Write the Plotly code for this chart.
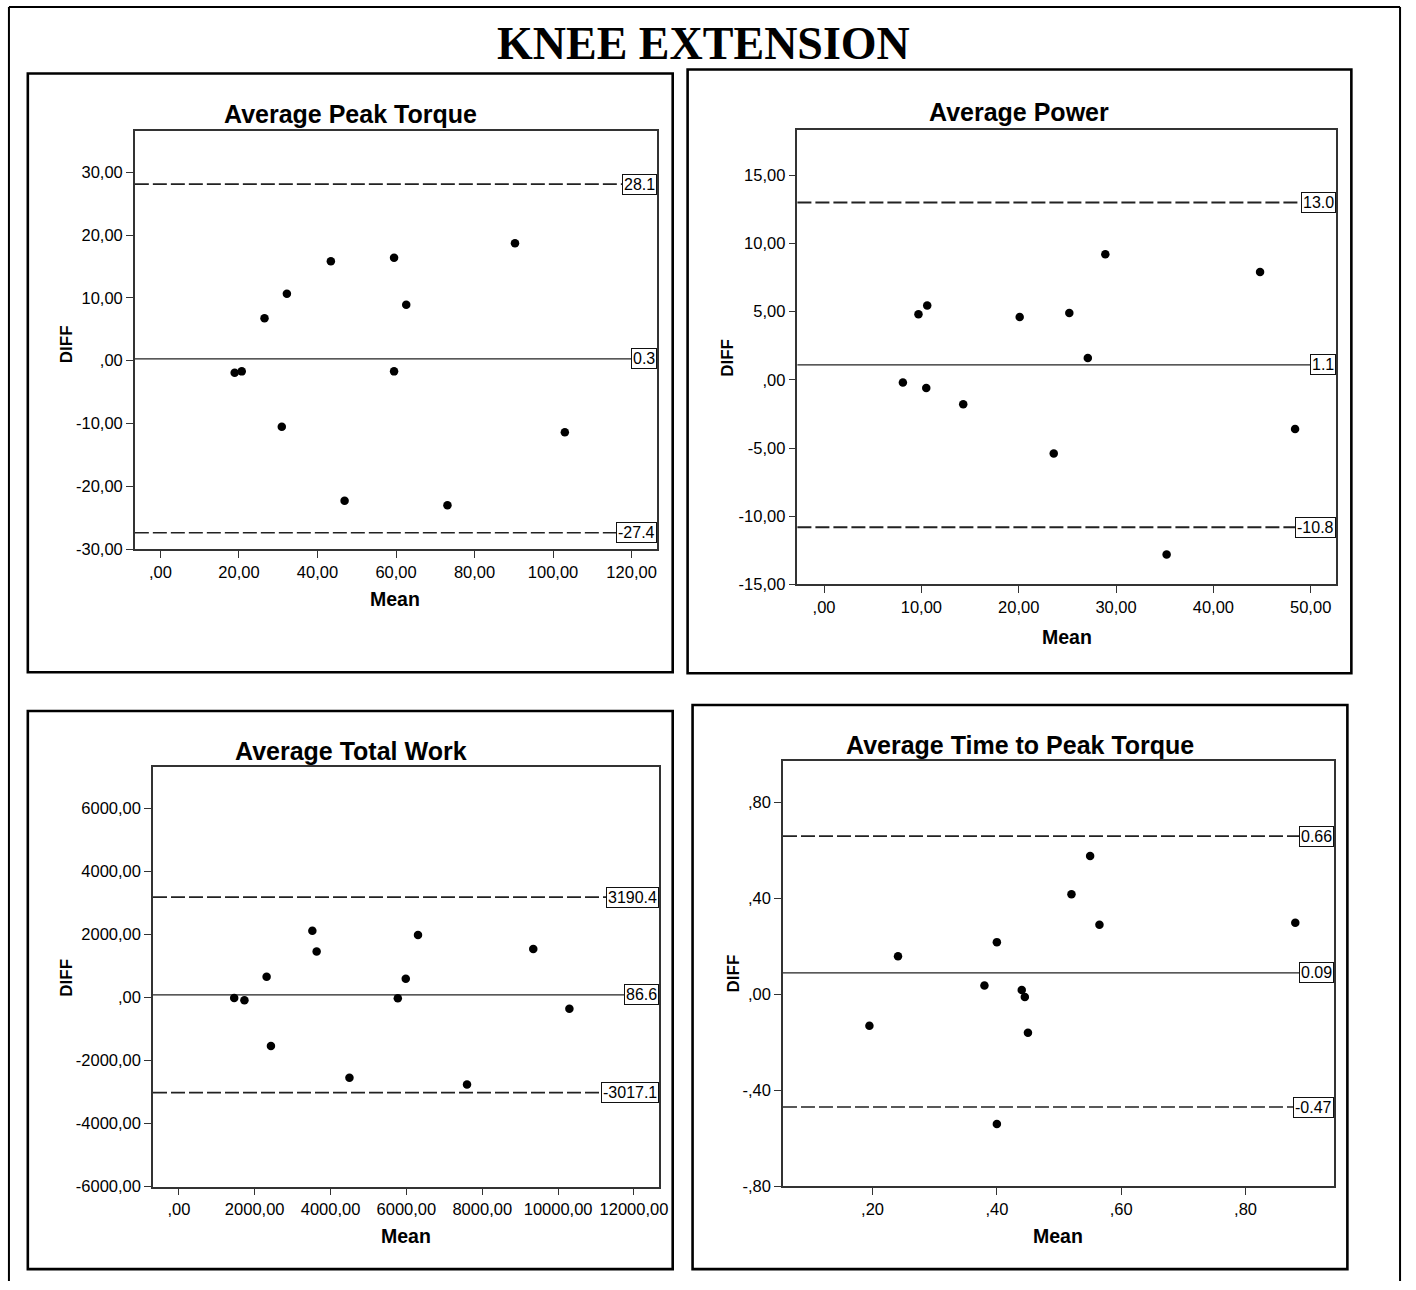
import plotly.graph_objects as go

W, H = 1416, 1290

# ---------------- data ----------------
torque_mean = [18.9, 20.7, 26.5, 32.2, 30.9, 43.4, 46.9, 59.5, 59.5, 62.6, 73.1, 90.3, 103.0]
torque_diff = [-1.9, -1.7, 6.75, 10.65, -10.5, 15.85, -22.3, 16.4, -1.7, 8.9, -23.0, 18.7, -11.4]
torque_lines = [28.1, 0.3, -27.4]
torque_labels = ["28.1", "0.3", "-27.4"]

power_mean = [8.1, 9.7, 10.6, 10.5, 14.3, 20.1, 23.6, 25.2, 27.1, 28.9, 35.2, 44.8, 48.4]
power_diff = [-0.2, 4.8, 5.45, -0.6, -1.8, 4.6, -5.4, 4.9, 1.6, 9.2, -12.8, 7.9, -3.6]
power_lines = [13.0, 1.1, -10.8]
power_labels = ["13.0", "1.1", "-10.8"]

work_mean = [1459, 1729, 2314, 2428, 3520, 3633, 4498, 5773, 5983, 6306, 7598, 9345, 10297]
work_diff = [-10, -84, 662, -1534, 2123, 1461, -2543, -21, 599, 1986, -2754, 1545, -357]
work_lines = [3190.4, 86.6, -3017.1]
work_labels = ["3190.4", "86.6", "-3017.1"]

time_mean = [0.195, 0.241, 0.380, 0.400, 0.440, 0.445, 0.450, 0.400, 0.520, 0.550, 0.565, 0.880]
time_diff = [-0.131, 0.159, 0.037, 0.218, 0.018, -0.011, -0.160, -0.541, 0.418, 0.577, 0.290, 0.299]
time_lines = [0.66, 0.09, -0.47]
time_labels = ["0.66", "0.09", "-0.47"]

torque_xticks = [0, 20, 40, 60, 80, 100, 120]
torque_xtext = [",00", "20,00", "40,00", "60,00", "80,00", "100,00", "120,00"]
torque_yticks = [30, 20, 10, 0, -10, -20, -30]
torque_ytext = ["30,00", "20,00", "10,00", ",00", "-10,00", "-20,00", "-30,00"]

power_xticks = [0, 10, 20, 30, 40, 50]
power_xtext = [",00", "10,00", "20,00", "30,00", "40,00", "50,00"]
power_yticks = [15, 10, 5, 0, -5, -10, -15]
power_ytext = ["15,00", "10,00", "5,00", ",00", "-5,00", "-10,00", "-15,00"]

work_xticks = [0, 2000, 4000, 6000, 8000, 10000, 12000]
work_xtext = [",00", "2000,00", "4000,00", "6000,00", "8000,00", "10000,00", "12000,00"]
work_yticks = [6000, 4000, 2000, 0, -2000, -4000, -6000]
work_ytext = ["6000,00", "4000,00", "2000,00", ",00", "-2000,00", "-4000,00", "-6000,00"]

time_xticks = [0.2, 0.4, 0.6, 0.8]
time_xtext = [",20", ",40", ",60", ",80"]
time_yticks = [0.8, 0.4, 0.0, -0.4, -0.8]
time_ytext = [",80", ",40", ",00", "-,40", "-,80"]

panel_titles = ["Average Peak Torque", "Average Power", "Average Total Work", "Average Time to Peak Torque"]
main_title = "KNEE EXTENSION"
x_title = "Mean"
y_title = "DIFF"

# ---------------- layout geometry (window pixels) ----------------
SANS = "Liberation Sans, Arial, sans-serif"

panels = [
    dict(mean=torque_mean, diff=torque_diff, lines=torque_lines, labels=torque_labels,
         xt=torque_xticks, xtt=torque_xtext, yt=torque_yticks, ytt=torque_ytext,
         plot=(135.7, 661.7, 131.7, 553.0), xr=[-6.53, 126.6], yr=[-30, 36.6],
         box=(28, 677, 74, 677), title=(353, 115), mean_lbl=(398, 603), diff_lbl=(67, 347), lw=1.6),
    dict(mean=power_mean, diff=power_diff, lines=power_lines, labels=power_labels,
         xt=power_xticks, xtt=power_xtext, yt=power_yticks, ytt=power_ytext,
         plot=(802.5, 1345, 131, 588.6), xr=[-2.74, 52.65], yr=[-15, 18.3],
         box=(692, 1360, 70, 678), title=(1026, 113), mean_lbl=(1074, 641), diff_lbl=(732, 360), lw=2.0),
    dict(mean=work_mean, diff=work_diff, lines=work_lines, labels=work_labels,
         xt=work_xticks, xtt=work_xtext, yt=work_yticks, ytt=work_ytext,
         plot=(154, 663.3, 772.7, 1195), xr=[-681, 12662], yr=[-6000, 7310],
         box=(28, 677, 716, 1278), title=(353, 756), mean_lbl=(409, 1245), diff_lbl=(67, 985), lw=1.8),
    dict(mean=time_mean, diff=time_diff, lines=time_lines, labels=time_labels,
         xt=time_xticks, xtt=time_xtext, yt=time_yticks, ytt=time_ytext,
         plot=(788, 1343, 766, 1194.5), xr=[0.056, 0.943], yr=[-0.8, 0.975],
         box=(697, 1356, 710, 1278), title=(1027, 750), mean_lbl=(1065, 1245), diff_lbl=(738, 980), lw=1.6),
]


def px(x):
    return x / W


def py(y):
    return 1 - y / H


fig = go.Figure()
layout = dict(width=W, height=H, autosize=False,
              margin=dict(l=0, r=0, t=0, b=0),
              paper_bgcolor="white", plot_bgcolor="white",
              showlegend=False, font=dict(family=SANS, color="black"))
shapes = []
annotations = []

for i, p in enumerate(panels, start=1):
    xa = "x" if i == 1 else f"x{i}"
    ya = "y" if i == 1 else f"y{i}"
    xkey = "xaxis" if i == 1 else f"xaxis{i}"
    ykey = "yaxis" if i == 1 else f"yaxis{i}"
    l, r, t, b = p["plot"]
    axis_common = dict(showgrid=False, zeroline=False, showline=True, mirror=True,
                       linecolor="#333333", linewidth=1.5, ticks="outside", ticklen=7,
                       tickwidth=1.2, tickcolor="#333333",
                       tickfont=dict(family=SANS, size=16.5, color="black"),
                       tickmode="array", fixedrange=True)
    layout[xkey] = dict(axis_common, domain=[px(l), px(r)], range=p["xr"], anchor=ya,
                        tickvals=p["xt"], ticktext=p["xtt"])
    layout[ykey] = dict(axis_common, domain=[py(b), py(t)], range=p["yr"], anchor=xa,
                        tickvals=p["yt"], ticktext=p["ytt"])

    fig.add_trace(go.Scatter(x=p["mean"], y=p["diff"], mode="markers", xaxis=xa, yaxis=ya,
                             marker=dict(size=8.5, color="black", line=dict(width=0)),
                             hoverinfo="skip", cliponaxis=False))

    for k, (val, lab) in enumerate(zip(p["lines"], p["labels"])):
        dashed = k != 1
        shapes.append(dict(type="line", xref=f"{xa} domain", yref=ya, x0=0, x1=1, y0=val, y1=val,
                           line=dict(color="#222222", width=p["lw"] if dashed else 1.3,
                                     dash="14px,4px" if dashed else "solid"),
                           layer="below"))
        annotations.append(dict(xref=f"{xa} domain", yref=ya, x=1, y=val, text=lab,
                                xanchor="right", yanchor="middle", showarrow=False,
                                font=dict(family=SANS, size=16, color="black"),
                                bgcolor="white", bordercolor="#111111", borderwidth=1, borderpad=1))

    bl, br, bt, bb = p["box"]
    shapes.append(dict(type="rect", xref="paper", yref="paper", x0=px(bl), x1=px(br), y0=py(bb), y1=py(bt),
                       line=dict(color="black", width=2.6), fillcolor="rgba(0,0,0,0)", layer="above"))

    tx, ty = p["title"]
    annotations.append(dict(xref="paper", yref="paper", x=px(tx), y=py(ty), text=f"<b>{panel_titles[i-1]}</b>",
                            showarrow=False, xanchor="center", yanchor="middle",
                            font=dict(family=SANS, size=25, color="black")))
    mx, my = p["mean_lbl"]
    annotations.append(dict(xref="paper", yref="paper", x=px(mx), y=py(my), text=f"<b>{x_title}</b>",
                            showarrow=False, xanchor="center", yanchor="middle",
                            font=dict(family=SANS, size=19.5, color="black")))
    dx, dy = p["diff_lbl"]
    annotations.append(dict(xref="paper", yref="paper", x=px(dx), y=py(dy), text=f"<b>{y_title}</b>",
                            showarrow=False, xanchor="center", yanchor="middle", textangle=-90,
                            font=dict(family=SANS, size=17, color="black")))

# main title
annotations.append(dict(xref="paper", yref="paper", x=px(708), y=py(44), text=f"<b>{main_title}</b>",
                        showarrow=False, xanchor="center", yanchor="middle",
                        font=dict(family="Liberation Serif, Times New Roman, serif", size=46, color="black")))

# outer page border (left, top, right)
for (x0, y0, x1, y1) in [(9, 7, 9, 1290), (9, 7, 1409, 7), (1409, 7, 1409, 1290)]:
    shapes.append(dict(type="line", xref="paper", yref="paper", x0=px(x0), y0=py(y0), x1=px(x1), y1=py(y1),
                       line=dict(color="black", width=2), layer="above"))

layout["shapes"] = shapes
layout["annotations"] = annotations
fig.update_layout(**layout)

# remove the browser's default 8px body margin so the figure fills the window exactly
fix_page = ("document.body.style.margin='0';document.body.style.padding='0';"
            "document.documentElement.style.overflow='hidden';document.body.style.overflow='hidden';")
fig.write_html("out.html", config={"displayModeBar": False}, post_script=fix_page)
